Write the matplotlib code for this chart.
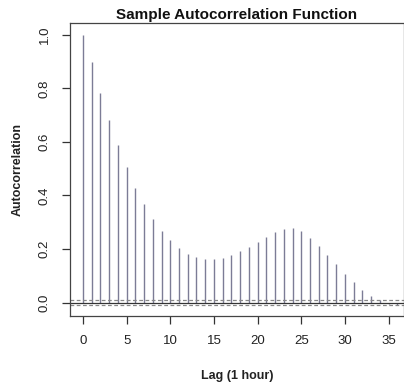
import numpy as np
import matplotlib; matplotlib.use("Agg")
import matplotlib.pyplot as plt

# sample ACF, lags 0..36
lags = list(range(37))
acf = [1.000, 0.897, 0.784, 0.683, 0.588, 0.506, 0.429, 0.367, 0.311, 0.269,
       0.233, 0.203, 0.181, 0.169, 0.162, 0.162, 0.168, 0.178, 0.193, 0.209,
       0.228, 0.246, 0.264, 0.274, 0.278, 0.268, 0.241, 0.212, 0.178, 0.143,
       0.108, 0.076, 0.047, 0.024, 0.008, -0.004, -0.008]
conf = 0.009
xticks = [0, 5, 10, 15, 20, 25, 30, 35]
yticks = [0.0, 0.2, 0.4, 0.6, 0.8, 1.0]

plt.rcParams.update({'font.family': ['Liberation Sans', 'DejaVu Sans']})
fig = plt.figure(figsize=(4.04, 3.83), dpi=100)
ax = fig.add_axes([70 / 404, 1 - 316 / 383, 1 - 70 / 404, (316 - 23) / 383])

ax.vlines(lags, 0, acf, color='#7c7c96', lw=1.0)
ax.axhline(0, color='#333333', lw=0.9)
for c in (conf, -conf):
    ax.axhline(c, color='#888888', lw=0.9, ls=(0, (3, 2)))

ax.set_xlim(-1.49, 36.77)
ax.set_ylim(-0.05, 1.044)
ax.set_xticks(xticks)
ax.set_yticks(yticks)
ax.set_yticklabels([f'{v:.1f}' for v in yticks], rotation=90, va='center')
ax.tick_params(length=6, width=0.9, color='#333333', labelsize=9.5,
               labelcolor='#222222', pad=8)
for s in ax.spines.values():
    s.set_color('#444444'); s.set_linewidth(0.9)

ax.set_title('Sample Autocorrelation Function', fontsize=11, weight='bold',
             pad=3, color='#111111')
ax.set_xlabel('Lag (1 hour)', fontsize=9, weight='bold', labelpad=16, color='#222222')
ax.set_ylabel('Autocorrelation', fontsize=9, weight='bold', labelpad=11, color='#222222')

fig.savefig('out.png', dpi=100)
